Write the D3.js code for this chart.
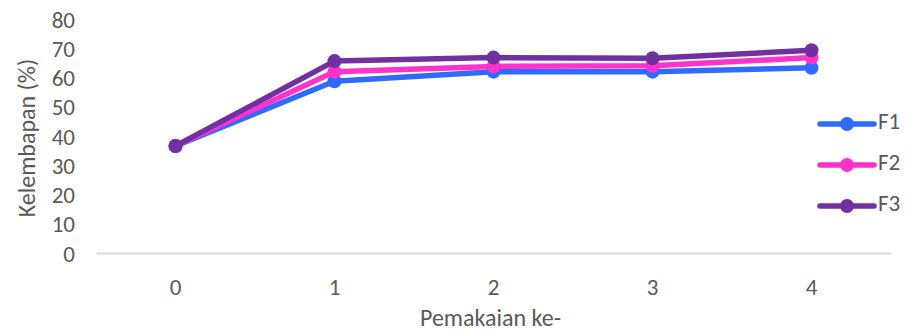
<!DOCTYPE html>
<html>
<head>
<meta charset="utf-8">
<script src="https://cdn.jsdelivr.net/npm/d3@7"></script>
<style>
  html, body { margin: 0; padding: 0; background: #fff; }
  svg text { font-family: Carlito, Calibri, Lato, "Open Sans", sans-serif; fill: #595959; }
</style>
</head>
<body>
<svg id="chart" width="905" height="334"></svg>
<script>
// Pemakaian (use number) categories
const categories = ["0", "1", "2", "3", "4"];
// Kelembapan (%) per formula
const seriesNames = ["F1", "F2", "F3"];
const f1Values = [36.6, 58.7, 62.0, 62.0, 63.3];
const f2Values = [36.6, 62.0, 63.8, 64.0, 66.8];
const f3Values = [36.6, 65.6, 66.8, 66.6, 69.3];
const yTicks = [0, 10, 20, 30, 40, 50, 60, 70, 80];
const colors = ["#2F6BFF", "#FF33CC", "#7030A0"];

const series = seriesNames.map((name, i) => ({
  name,
  values: [f1Values, f2Values, f3Values][i],
  color: colors[i]
}));

const svg = d3.select("#chart");
const plot = { left: 96, right: 891, top: 19, bottom: 253 };
const tickFont = "23px";
const titleFont = "24px";

const x = d3.scaleBand().domain(categories).range([plot.left, plot.right]);
const y = d3.scaleLinear().domain([0, 80]).range([plot.bottom, plot.top]);

// y axis: labels only
const yAxis = d3.axisLeft(y).tickValues(yTicks).tickSize(0).tickPadding(0);
const gy = svg.append("g").attr("transform", "translate(75,0)").call(yAxis);
gy.select(".domain").remove();
gy.selectAll("text").style("font-size", tickFont).style("fill", "#595959")
  .style("font-family", "Carlito, Calibri, Lato, sans-serif").attr("dy", "0.35em");

// x axis with baseline
const xAxis = d3.axisBottom(x).tickSize(0).tickPadding(0);
const gx = svg.append("g").attr("transform", `translate(0,${plot.bottom})`).call(xAxis);
gx.select(".domain").attr("stroke", "#D9D9D9").attr("stroke-width", 2);
gx.selectAll("text").style("font-size", tickFont).style("fill", "#595959")
  .style("font-family", "Carlito, Calibri, Lato, sans-serif")
  .attr("y", 34).attr("dy", "0.35em");

// axis titles
svg.append("text")
  .attr("x", (plot.left + plot.right) / 2 - 3).attr("y", 320)
  .attr("text-anchor", "middle").attr("dominant-baseline", "middle")
  .style("font-size", titleFont).text("Pemakaian ke-");
svg.append("text")
  .attr("transform", "translate(29,138) rotate(-90)")
  .attr("text-anchor", "middle").attr("dominant-baseline", "middle")
  .style("font-size", titleFont).text("Kelembapan (%)");

// lines and markers
const cx = c => x(c) + x.bandwidth() / 2;
const line = d3.line().x((d, i) => cx(categories[i])).y(d => y(d));

const g = svg.append("g");
series.forEach(s => {
  g.append("path").datum(s.values)
    .attr("d", line).attr("fill", "none")
    .attr("stroke", s.color).attr("stroke-width", 5.5)
    .attr("stroke-linejoin", "round").attr("stroke-linecap", "round");
  g.selectAll(null).data(s.values).enter().append("circle")
    .attr("cx", (d, i) => cx(categories[i])).attr("cy", d => y(d))
    .attr("r", 7).attr("fill", s.color);
});

// legend
const legendY = [124, 165, 206];
const lg = svg.append("g");
series.forEach((s, i) => {
  const row = lg.append("g").attr("transform", `translate(0,${legendY[i]})`);
  row.append("line").attr("x1", 820).attr("x2", 874).attr("y1", 0).attr("y2", 0)
    .attr("stroke", s.color).attr("stroke-width", 5.5).attr("stroke-linecap", "round");
  row.append("circle").attr("cx", 847).attr("cy", 0).attr("r", 7).attr("fill", s.color);
  row.append("text").attr("x", 878).attr("y", 0).attr("dominant-baseline", "middle")
    .style("font-size", tickFont).text(s.name);
});
</script>
</body>
</html>
